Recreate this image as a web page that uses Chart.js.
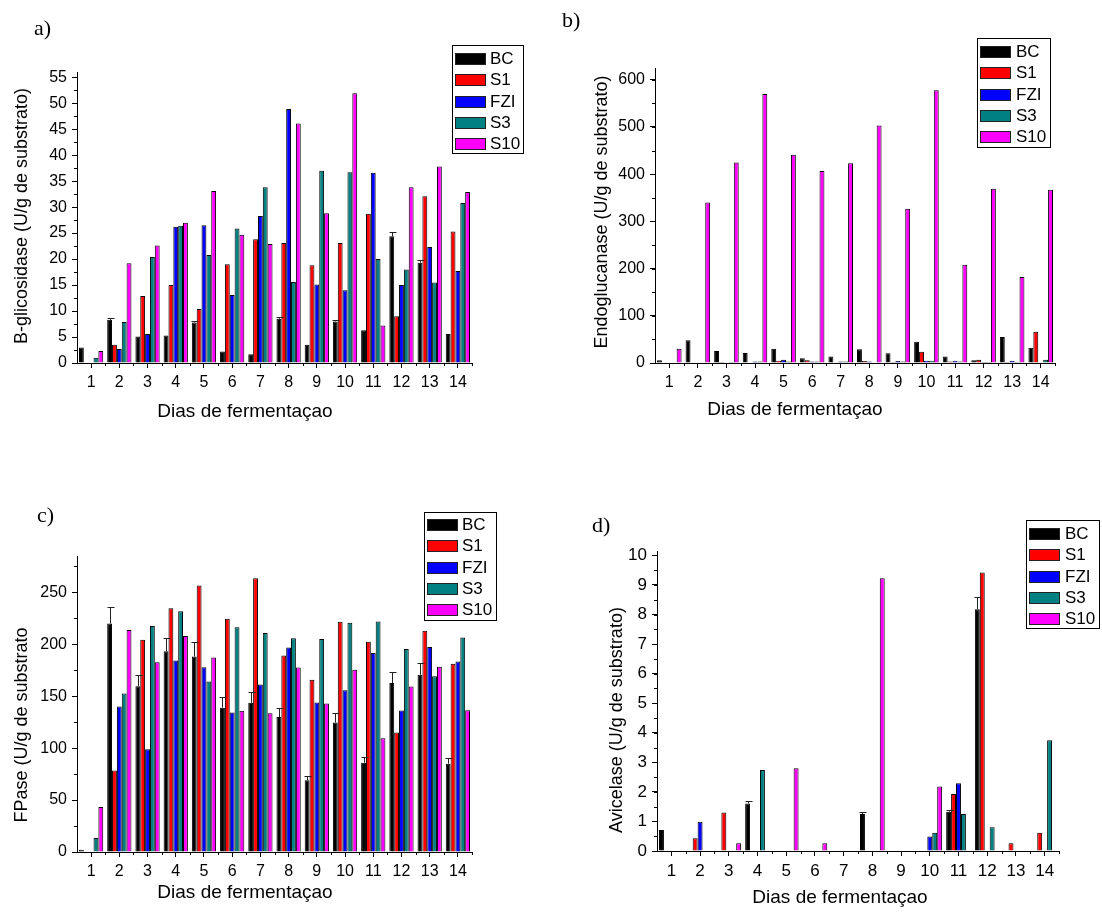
<!DOCTYPE html>
<html>
<head>
<meta charset="utf-8">
<title>Atividades enzimáticas por dia de fermentação</title>
<script src="https://cdn.jsdelivr.net/npm/chart.js@4.4.0/dist/chart.umd.min.js"></script>
<style>
    html, body { margin: 0; padding: 0; background: #fff; }
    #page { position: relative; width: 1102px; height: 916px; overflow: hidden; }
    #page canvas { position: absolute; }
    .tag {
        position: absolute;
        font-family: "Liberation Serif", "Times New Roman", serif;
        font-size: 22px;
        line-height: 1;
        color: #000;
    }
</style>
</head>
<body>
<div id="page">
    <canvas id="cA" width="551" height="458" style="left:0;top:0"></canvas>
    <canvas id="cB" width="551" height="458" style="left:551px;top:0"></canvas>
    <canvas id="cC" width="551" height="458" style="left:0;top:458px"></canvas>
    <canvas id="cD" width="551" height="458" style="left:551px;top:458px"></canvas>
    <div class="tag" style="left:34px;top:17px">a)</div>
    <div class="tag" style="left:562px;top:9px">b)</div>
    <div class="tag" style="left:37px;top:504px">c)</div>
    <div class="tag" style="left:592px;top:514px">d)</div>
</div>

<script>
/* ============================================================
   Atividades enzimáticas x dias de fermentação (4 painéis)
   ============================================================ */

var DIAS   = ["1","2","3","4","5","6","7","8","9","10","11","12","13","14"];
var SERIES = ["BC", "S1", "FZI", "S3", "S10"];
var CORES  = ["#000000", "#ff0000", "#0000ff", "#008080", "#ff00ff"];

// a) B-glicosidase (U/g de substrato)
var BGL_BC  = [3.0, 8.3, 5.1, 5.3, 7.8, 2.2, 1.7, 8.5, 3.5, 8.0, 6.3, 24.4, 19.3, 5.6];
var BGL_S1  = [0.1, 3.5, 12.9, 15.0, 10.4, 19.0, 23.8, 23.1, 18.8, 23.1, 28.7, 9.0, 32.1, 25.3];
var BGL_FZI = [0, 2.7, 5.6, 26.2, 26.5, 13.1, 28.3, 48.9, 15.1, 14.0, 36.6, 15.0, 22.3, 17.7];
var BGL_S3  = [1.0, 7.9, 20.4, 26.4, 20.8, 25.9, 33.8, 15.6, 37.0, 36.7, 20.0, 18.0, 15.5, 30.8];
var BGL_S10 = [2.3, 19.2, 22.6, 27.0, 33.1, 24.7, 22.9, 46.1, 28.8, 51.9, 7.2, 33.8, 37.8, 32.9];
var BGL_ERR = [0, 0.3, 0, 0, 0.3, 0, 0, 0.3, 0, 0.3, 0, 0.9, 0.6, 0];
var BGL_TICKS = [0, 5, 10, 15, 20, 25, 30, 35, 40, 45, 50, 55];

// b) Endoglucanase (U/g de substrato)
var END_BC  = [5.7, 48, 25.5, 21, 30, 10, 14, 29, 20.5, 45, 14, 6, 55, 32.5];
var END_S1  = [0, 0.5, 2, 1, 5, 6, 0.5, 4, 2, 24, 3, 7, 2, 66];
var END_FZI = [0, 1, 0.5, 3, 7, 3, 3, 3, 4, 5, 5, 2, 5, 0.5];
var END_S3  = [0, 1, 2, 3, 3, 3, 3, 1, 3, 5, 3, 2, 2, 7];
var END_S10 = [30, 340, 425, 570, 441, 407, 423, 503, 327, 578, 208, 369, 182, 367];
var END_ERR = [0, 0, 0, 0, 0, 0, 0, 0, 0, 0, 0, 0, 0, 0];
var END_TICKS = [0, 100, 200, 300, 400, 500, 600];

// c) FPase (U/g de substrato)
var FPA_BC  = [2.2, 220, 159.7, 193.4, 188.3, 139, 143.6, 130, 69, 124.7, 86, 162.6, 170.6, 85];
var FPA_S1  = [0, 78.4, 204.4, 234.6, 256.7, 224.6, 263.5, 189.3, 165.8, 221.7, 202.4, 115, 213, 181.2];
var FPA_FZI = [0, 140, 99, 184.4, 178, 134.3, 161.3, 197, 144, 155.8, 191.5, 136.2, 197.3, 183.5];
var FPA_S3  = [13.5, 152.6, 217.5, 231.7, 164.2, 216.3, 210.8, 205.7, 205, 220.8, 222, 195.4, 169.3, 206.6];
var FPA_S10 = [43.4, 213.7, 182.8, 207.9, 187.3, 135.9, 133.7, 177.7, 143, 175.4, 109.6, 159.4, 178.3, 136.6];
var FPA_ERR = [0, 15.5, 11, 13, 13.5, 10, 10, 9, 4.6, 8.7, 5.6, 11, 11.6, 5.6];
var FPA_TICKS = [0, 50, 100, 150, 200, 250];

// d) Avicelase (U/g de substrato)
var AVI_BC  = [0.71, 0, 0, 1.61, 0, 0, 0, 1.25, 0, 0, 1.33, 8.18, 0, 0];
var AVI_S1  = [0, 0.43, 1.30, 0, 0, 0, 0, 0, 0, 0, 1.93, 9.42, 0.26, 0.62];
var AVI_FZI = [0, 0.99, 0, 0, 0, 0, 0, 0, 0, 0.49, 2.29, 0, 0, 0];
var AVI_S3  = [0, 0, 0, 2.74, 0, 0, 0, 0, 0, 0.62, 1.25, 0.80, 0, 3.75];
var AVI_S10 = [0, 0, 0.26, 0, 2.80, 0.26, 0, 9.23, 0, 2.18, 0, 0, 0, 0];
var AVI_ERR = [0, 0, 0, 0.09, 0, 0, 0, 0.08, 0, 0, 0.06, 0.4, 0, 0];
var AVI_TICKS = [0, 1, 2, 3, 4, 5, 6, 7, 8, 9, 10];

var FONTE = "'Liberation Sans', Arial, sans-serif";


// ============================================================
// plugin: barras de erro, ticks menores, títulos e legenda
// ============================================================

var painelPlugin = {
    id: "painel",

    afterDatasetsDraw: function (chart, args, opts) {
        var err = opts.erro;
        if (!err) return;
        var ctx  = chart.ctx;
        var meta = chart.getDatasetMeta(0);
        var y    = chart.scales.y;
        var vals = chart.data.datasets[0].data;
        ctx.save();
        ctx.strokeStyle = "#222";
        ctx.lineWidth = 1;
        err.forEach(function (e, i) {
            if (!e) return;
            var x  = Math.round(meta.data[i].x) + 0.5;
            var y1 = y.getPixelForValue(vals[i]);
            var y2 = Math.round(y.getPixelForValue(vals[i] + e)) + 0.5;
            ctx.beginPath();
            ctx.moveTo(x, y1);
            ctx.lineTo(x, y2);
            ctx.moveTo(x - 3, y2);
            ctx.lineTo(x + 4, y2);
            ctx.stroke();
        });
        ctx.restore();
    },

    afterDraw: function (chart, args, opts) {
        var ctx  = chart.ctx;
        var area = chart.chartArea;
        var xs   = chart.scales.x;
        var ys   = chart.scales.y;

        ctx.save();
        ctx.strokeStyle = "#000";
        ctx.lineWidth = 1;
        ctx.beginPath();

        // ticks menores do eixo y
        for (var v = 0; v <= ys.max + 1e-9; v += opts.passoMenor) {
            var py = Math.round(ys.getPixelForValue(v)) + 0.5;
            ctx.moveTo(area.left - 3, py);
            ctx.lineTo(area.left, py);
        }
        // ticks menores do eixo x (entre as categorias)
        var n = chart.data.labels.length;
        var larg = (area.right - area.left) / n;
        for (var i = 1; i <= n; i++) {
            var px = Math.round(area.left + i * larg) + 0.5;
            ctx.moveTo(px, area.bottom);
            ctx.lineTo(px, area.bottom + 3);
        }
        ctx.stroke();

        // títulos dos eixos
        ctx.fillStyle = "#000";
        ctx.textAlign = "center";
        ctx.textBaseline = "middle";
        ctx.font = opts.tamTituloX + "px " + FONTE;
        ctx.fillText(opts.tituloX, opts.posX[0], opts.posX[1]);

        ctx.save();
        ctx.translate(opts.posY[0], opts.posY[1]);
        ctx.rotate(-Math.PI / 2);
        ctx.font = opts.tamTituloY + "px " + FONTE;
        ctx.fillText(opts.tituloY, 0, 0);
        ctx.restore();

        // legenda em caixa
        var lg = opts.legenda;
        ctx.strokeStyle = "#000";
        ctx.strokeRect(lg.x + 0.5, lg.y + 0.5, lg.w, lg.h);
        ctx.font = "17px " + FONTE;
        ctx.textAlign = "left";
        chart.data.datasets.forEach(function (ds, k) {
            var cy = Math.round(lg.linha0 + k * 21.3);
            ctx.fillStyle = ds.backgroundColor;
            ctx.fillRect(lg.x + 3, cy - 5, 30, 11);
            ctx.strokeStyle = "#222";
            ctx.strokeRect(lg.x + 3.5, cy - 4.5, 30, 11);
            ctx.fillStyle = "#000";
            ctx.fillText(ds.label, lg.texto, cy + 1);
        });
        ctx.restore();
    }
};


// ============================================================
// montagem de cada painel
// ============================================================

function montaDatasets(series) {
    return SERIES.map(function (nome, i) {
        return {
            label: nome,
            data: series[i],
            backgroundColor: CORES[i],
            borderColor: "#000",
            borderWidth: function (c) { return c.raw ? 1 : 0; },
            borderSkipped: "start",
            categoryPercentage: 0.86,
            barPercentage: 1.0
        };
    });
}

function eixoBase(tam) {
    return {
        grid:   { display: true, drawOnChartArea: false, offset: false, color: "#000", tickLength: 5 },
        border: { display: true, color: "#000", width: 1 },
        ticks:  { color: "#000", font: { family: FONTE, size: tam }, padding: 5 }
    };
}

function desenhaPainel(id, cfg) {
    var canvas = document.getElementById(id);
    var W = canvas.width, H = canvas.height;

    var x = eixoBase(cfg.tamTick);
    x.ticks.autoSkip = false;
    x.ticks.maxRotation = 0;
    x.afterFit = function (s) { s.height = H - cfg.area.bottom; };

    var y = eixoBase(cfg.tamTick);
    y.min = 0;
    y.max = cfg.max;
    y.afterBuildTicks = function (s) {
        s.ticks = cfg.ticks.map(function (v) { return { value: v }; });
    };
    y.afterFit = function (s) { s.width = cfg.area.left; };

    new Chart(canvas.getContext("2d"), {
        type: "bar",
        data: { labels: DIAS, datasets: montaDatasets(cfg.series) },
        options: {
            responsive: false,
            animation: false,
            events: [],
            layout: { padding: { left: 0, top: cfg.area.top, right: W - cfg.area.right, bottom: 0 } },
            plugins: {
                legend:  { display: false },
                tooltip: { enabled: false },
                painel: {
                    erro: cfg.erro,
                    passoMenor: cfg.passoMenor,
                    tituloX: "Dias de fermentaçao",
                    tituloY: cfg.tituloY,
                    tamTituloX: cfg.tamTituloX,
                    tamTituloY: cfg.tamTituloY,
                    posX: cfg.posX,
                    posY: cfg.posY,
                    legenda: cfg.legenda
                }
            },
            scales: { x: x, y: y }
        },
        plugins: [painelPlugin]
    });
}

document.addEventListener("DOMContentLoaded", function () {
    desenhaPainel("cA", {
        series: [BGL_BC, BGL_S1, BGL_FZI, BGL_S3, BGL_S10],
        erro: BGL_ERR, ticks: BGL_TICKS, max: 56, passoMenor: 2.5,
        area: { left: 77, right: 472, top: 72, bottom: 363 },
        tamTick: 16, tamTituloX: 19, tamTituloY: 18,
        tituloY: "B-glicosidase (U/g de substrato)",
        posX: [245, 412], posY: [22, 216],
        legenda: { x: 452, y: 45, w: 71, h: 108, linha0: 58, texto: 490 }
    });

    desenhaPainel("cB", {
        series: [END_BC, END_S1, END_FZI, END_S3, END_S10],
        erro: END_ERR, ticks: END_TICKS, max: 625, passoMenor: 50,
        area: { left: 104, right: 504, top: 68, bottom: 363 },
        tamTick: 16, tamTituloX: 19, tamTituloY: 18,
        tituloY: "Endoglucanase (U/g de substrato)",
        posX: [244, 410], posY: [51, 212],
        legenda: { x: 426, y: 38, w: 73, h: 109, linha0: 51, texto: 465 }
    });

    desenhaPainel("cC", {
        series: [FPA_BC, FPA_S1, FPA_FZI, FPA_S3, FPA_S10],
        erro: FPA_ERR, ticks: FPA_TICKS, max: 285, passoMenor: 25,
        area: { left: 77, right: 472, top: 98, bottom: 394 },
        tamTick: 16, tamTituloX: 19, tamTituloY: 18,
        tituloY: "FPase (U/g de substrato",
        posX: [245, 435], posY: [22, 267],
        legenda: { x: 424, y: 54, w: 72, h: 108, linha0: 66, texto: 462 }
    });

    desenhaPainel("cD", {
        series: [AVI_BC, AVI_S1, AVI_FZI, AVI_S3, AVI_S10],
        erro: AVI_ERR, ticks: AVI_TICKS, max: 10.15, passoMenor: 0.5,
        area: { left: 106, right: 508, top: 93, bottom: 393 },
        tamTick: 17, tamTituloX: 19, tamTituloY: 18,
        tituloY: "Avicelase (U/g de substrato)",
        posX: [289, 440], posY: [66, 262],
        legenda: { x: 475, y: 62, w: 73, h: 108, linha0: 75, texto: 514 }
    });
});
</script>
</body>
</html>
